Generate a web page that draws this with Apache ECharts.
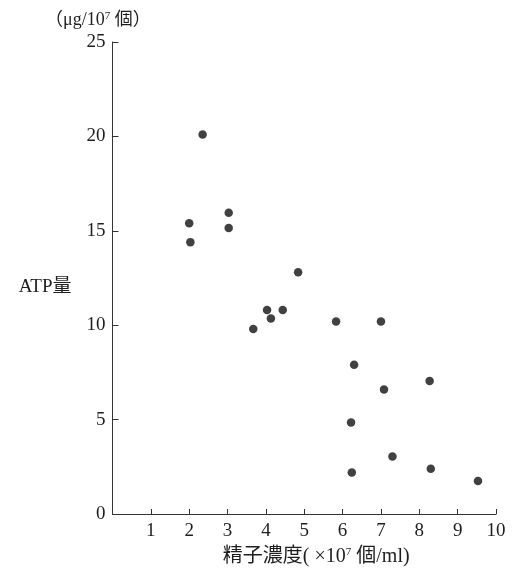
<!DOCTYPE html>
<html>
<head>
<meta charset="utf-8">
<script src="https://cdn.jsdelivr.net/npm/echarts@6/dist/echarts.min.js"></script>
<style>
  html, body { margin: 0; padding: 0; background: #fff; }
  #chart { width: 517px; height: 570px; }
</style>
</head>
<body>
<div id="chart"></div>
<script>
// 精子濃度 (×10^7 個/ml)
var concentration = [2.35, 2.0, 2.03, 3.03, 3.03, 3.67, 4.03, 4.13, 4.44, 4.84,
  5.83, 7.0, 6.3, 8.27, 7.08, 6.22, 7.3, 6.24, 8.3, 9.53]
// ATP量 (μg/10^7 個)
var atp = [20.1, 15.4, 14.4, 15.95, 15.15, 9.8, 10.8, 10.35, 10.8, 12.8,
  10.2, 10.2, 7.9, 7.05, 6.6, 4.85, 3.05, 2.2, 2.4, 1.75]
var xTicks = [0, 10, 1]
var yTicks = [0, 25, 5]

var serif = '"Liberation Serif", "Noto Sans CJK JP", serif'
var axisColor = '#333'
var textColor = '#1e1e1e'

var myChart = echarts.init(document.getElementById('chart'))
myChart.setOption({
  animation: false,
  backgroundColor: '#fff',
  title: {
    text: '（μg/10{sup|7} 個）',
    left: 40,
    top: 6,
    textStyle: {
      fontFamily: serif,
      fontSize: 18,
      fontWeight: 'normal',
      color: textColor,
      rich: {
        sup: { fontSize: 11, verticalAlign: 'top', lineHeight: 14, fontFamily: serif, color: textColor }
      }
    }
  },
  grid: { left: 112.5, right: 21, top: 42, bottom: 56, outerBoundsMode: 'none' },
  xAxis: {
    type: 'value',
    min: xTicks[0],
    max: xTicks[1],
    interval: xTicks[2],
    name: '精子濃度( ×10{sup|7} 個/ml)',
    nameLocation: 'middle',
    nameGap: 33,
    nameTextStyle: {
      fontFamily: serif,
      fontSize: 20,
      color: textColor,
      padding: [0, 0, 0, 24],
      rich: {
        sup: { fontSize: 11, verticalAlign: 'top', lineHeight: 13, fontFamily: serif, color: textColor }
      }
    },
    splitLine: { show: false },
    axisLine: { lineStyle: { color: axisColor, width: 1 } },
    axisTick: { inside: true, length: 5, lineStyle: { color: axisColor } },
    axisLabel: {
      margin: 8,
      fontFamily: serif,
      fontSize: 19,
      color: textColor,
      formatter: function (v) { return v === 0 ? '' : String(v) }
    }
  },
  yAxis: {
    type: 'value',
    min: yTicks[0],
    max: yTicks[1],
    interval: yTicks[2],
    name: 'ATP量',
    nameLocation: 'middle',
    nameRotate: 0,
    nameGap: 41,
    nameTextStyle: {
      fontFamily: serif,
      fontSize: 19,
      color: textColor,
      verticalAlign: 'top'
    },
    splitLine: { show: false },
    axisLine: { show: true, lineStyle: { color: axisColor, width: 1 } },
    axisTick: { show: true, inside: true, length: 6, lineStyle: { color: axisColor } },
    axisLabel: {
      margin: 7,
      fontFamily: serif,
      fontSize: 19,
      color: textColor
    }
  },
  series: [
    {
      type: 'scatter',
      symbol: 'circle',
      symbolSize: 8.5,
      itemStyle: { color: '#111' },
      data: concentration.map(function (c, i) { return [c, atp[i]] })
    }
  ]
})
</script>
</body>
</html>
